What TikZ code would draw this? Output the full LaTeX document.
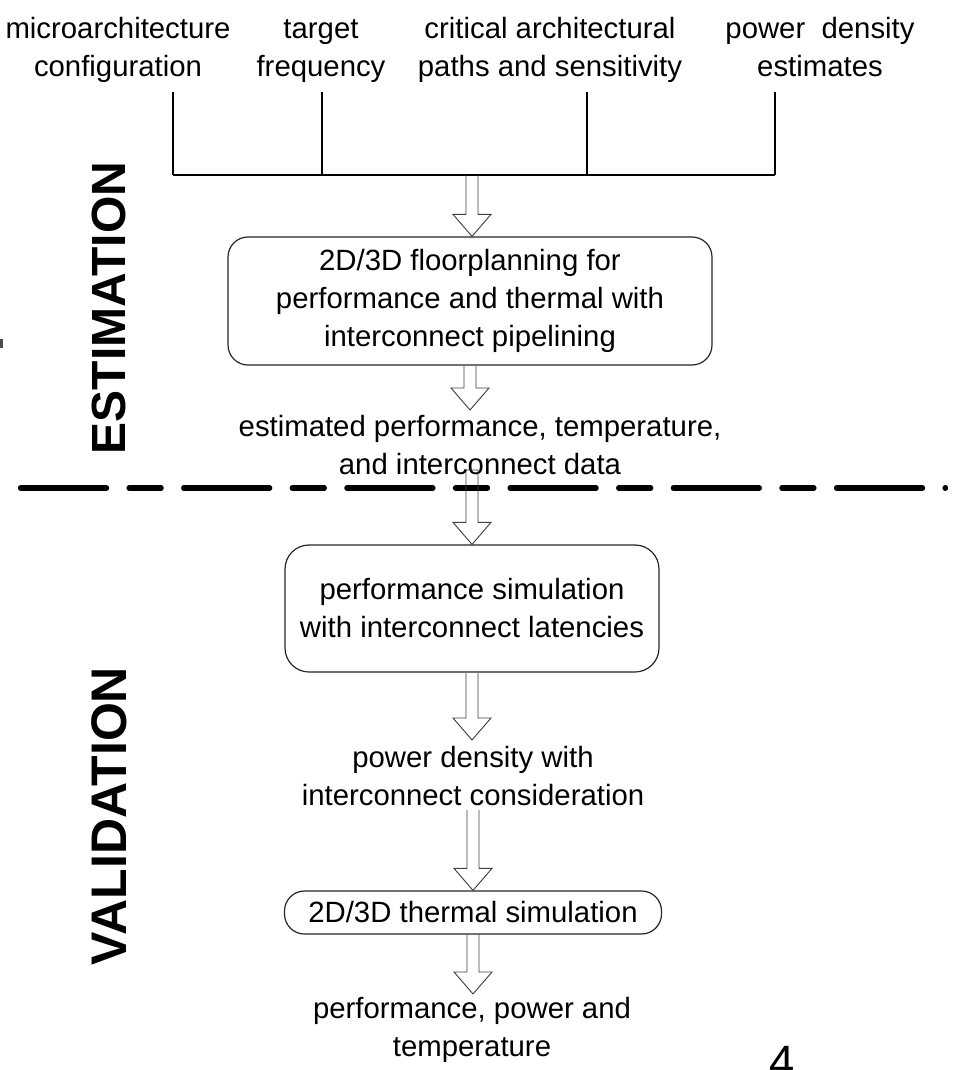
\documentclass[tikz,border=0pt]{standalone}
\usepackage{fontspec}
\setmainfont{Liberation Sans}
\usetikzlibrary{calc}
\newcommand\harrow[2]{%
  \draw[harrowline] let \p1=(#1), \p2=(#2) in
    (\x1-4.5pt,\y1) -- (\x1-4.5pt,\y2+16.5pt) -- (\x1-14.25pt,\y2+16.5pt) -- (\x1,\y2)
    -- (\x1+14.25pt,\y2+16.5pt) -- (\x1+4.5pt,\y2+16.5pt) -- (\x1+4.5pt,\y1);}
\newcommand\harrowclosed[2]{%
  \draw[harrowline] let \p1=(#1), \p2=(#2) in
    (\x1-4.5pt,\y1) -- (\x1-4.5pt,\y2+16.5pt) -- (\x1-14.25pt,\y2+16.5pt) -- (\x1,\y2)
    -- (\x1+14.25pt,\y2+16.5pt) -- (\x1+4.5pt,\y2+16.5pt) -- (\x1+4.5pt,\y1) -- cycle;}
\newcommand\topstrut{\rule{0pt}{16pt}}
\begin{document}
\begin{tikzpicture}[x=0.75pt,y=-0.75pt,
  lbl/.style={align=center, font=\fontsize{22}{28.5}\selectfont, inner sep=0pt},
  toplbl/.style={lbl, anchor=north},
  hbox/.style={draw=black!85, line width=0.9pt, align=center,
    font=\fontsize{22}{28.5}\selectfont, inner sep=0pt},
  side/.style={rotate=90, font=\fontsize{36}{40}\selectfont\bfseries, inner sep=0pt},
  busline/.style={line width=1.4pt, black},
  feedline/.style={line width=0.9pt, black},
  harrowline/.style={line width=0.7pt, black!75},
  sepline/.style={line width=4pt, line cap=round,
    dash pattern=on 64.5pt off 16.95pt on 24pt off 16.95pt}]
\useasboundingbox (0,0) rectangle (961,1070);

% top input labels
\node[toplbl] (in1) at (118,17) {\topstrut microarchitecture\\configuration};
\node[toplbl] (in2) at (321,17) {\topstrut target\\frequency};
\node[toplbl] (in3) at (550,17) {\topstrut critical architectural\\paths and sensitivity};
\node[toplbl] (in4) at (820,17) {\topstrut power\ \ density\\estimates};

\coordinate (f1) at (173,92);
\coordinate (f2) at (322,92);
\coordinate (f3) at (587,92);
\coordinate (f4) at (775,92);
\coordinate (b1) at (173,175);
\coordinate (b2) at (322,175);
\coordinate (b3) at (587,175);
\coordinate (b4) at (775,175);
\coordinate (bm) at (472,175);

\draw[feedline] (f1) -- (b1);
\draw[feedline] (f2) -- (b2);
\draw[feedline] (f3) -- (b3);
\draw[feedline] (f4) -- (b4);
\draw[busline] (b1) -- (b4);

% estimation stage
\node[hbox, rounded corners=15pt, minimum width=363pt, minimum height=96pt] (fp) at (470,301)
  {2D/3D floorplanning for\\performance and thermal with\\interconnect pipelining};
\node[lbl] (est) at (480,445) {estimated performance, temperature,\\and interconnect data};

\coordinate (t2) at (470,410);
\harrow{bm}{fp.north}
\harrow{fp.south}{t2}

% separator
\coordinate (s1) at (20.5,488);
\coordinate (s2) at (945.5,488);
\draw[sepline] (s1) -- (s2);

\node[side] (estl) at (109,308) {ESTIMATION};
\node[side, font=\fontsize{37.5}{40}\selectfont\bfseries] (vall) at (109,816) {VALIDATION};

% validation stage
\node[hbox, rounded corners=18pt, minimum width=280.5pt, minimum height=95.25pt] (ps) at (472,608.5)
  {performance simulation\\with interconnect latencies};
\coordinate (a3) at (472,470);
\harrowclosed{a3}{ps.north}

\coordinate (t4) at (472,740);
\harrow{ps.south}{t4}
\node[lbl] (pd) at (473,776) {power density with\\interconnect consideration};

\node[hbox, rounded corners=15pt, minimum width=282.75pt, minimum height=32.25pt] (ts) at (473,912.5)
  {2D/3D thermal simulation};
\coordinate (a5) at (473,810);
\harrow{a5}{ts.north}

\coordinate (t6) at (473,994);
\harrow{ts.south}{t6}
\node[lbl] (out) at (472,1030) {performance, power and\\temperature};

% slide residue
\node[font=\fontsize{34}{34}\selectfont, anchor=north, inner sep=0pt] (pg) at (782,1046) {4};
\fill[black!70] (0,339) rectangle (3,348);
\end{tikzpicture}
\end{document}
